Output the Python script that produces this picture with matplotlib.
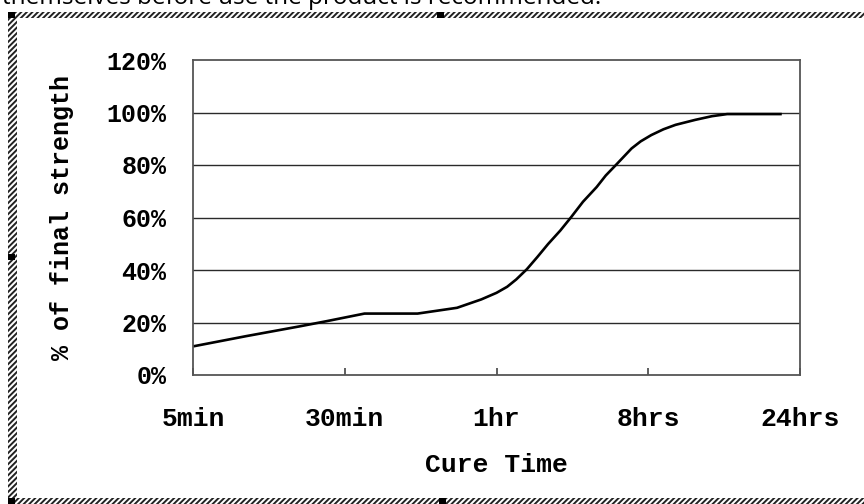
import matplotlib
matplotlib.use("Agg")
import matplotlib.pyplot as plt
from matplotlib.patches import Rectangle

# ---- data ----
x_labels = ["5min", "30min", "1hr", "8hrs", "24hrs"]
y_ticks = [0, 20, 40, 60, 80, 100, 120]
y_tick_labels = ["0%", "20%", "40%", "60%", "80%", "100%", "120%"]
curve_x = [0, 0.35, 0.7, 0.88, 1.13, 1.48, 1.74, 1.9, 2.0, 2.07, 2.13, 2.2, 2.27,
           2.34, 2.42, 2.49, 2.57, 2.66, 2.72, 2.79, 2.89, 2.95, 3.02, 3.1, 3.18,
           3.31, 3.42, 3.52, 3.88]
curve_y = [10.9, 14.8, 18.5, 20.5, 23.4, 23.4, 25.6, 28.8, 31.3, 33.6, 36.4, 40.3, 45.0,
           49.9, 55.0, 60.0, 66.0, 71.6, 76.0, 80.2, 86.3, 89.0, 91.4, 93.6, 95.3,
           97.2, 98.6, 99.4, 99.4]

W, H = 864, 504
fig = plt.figure(figsize=(W / 100, H / 100), dpi=100)
fig.patch.set_facecolor("white")

mono = ["Liberation Mono", "DejaVu Sans Mono"]

def fx(px):
    return px / W

def fy(py):
    return 1 - py / H

ax = fig.add_axes([fx(193), fy(375), fx(800) - fx(193), fy(60) - fy(375)])
ax.plot(curve_x, curve_y, color="black", lw=1.9, solid_capstyle="butt",
        solid_joinstyle="round")
ax.set_xlim(0, 4)
ax.set_ylim(0, 120)

for v in y_ticks[1:-1]:
    ax.axhline(v, color="#2a2a2a", lw=1.0, zorder=0)

ax.set_yticks(y_ticks)
ax.set_yticklabels(y_tick_labels, family=mono, fontweight="bold", fontsize=18)
ax.set_xticks(range(len(x_labels)))
ax.set_xticklabels(x_labels, family=mono, fontweight="bold", fontsize=19)
ax.tick_params(axis="y", length=0, pad=19)
ax.tick_params(axis="x", direction="in", length=5, width=1.2, color="#444444", pad=23)
for s in ax.spines.values():
    s.set_color("#555555")
    s.set_linewidth(1.3)

fig.text(fx(496), fy(465), "Cure Time", family=mono, fontweight="bold", fontsize=19,
         ha="center", va="center")
fig.text(fx(62), fy(217), "% of final strength", family=mono, fontweight="bold",
         fontsize=18, ha="center", va="center", rotation=90)

# document text cut at top
fig.text(fx(2), fy(4), "themselves before use the product is recommended.",
         family=["Open Sans", "DejaVu Sans"], fontsize=17.5, ha="left", va="baseline")

# hatched selection border
plt.rcParams["hatch.linewidth"] = 1.4
bands = [(8, 12, W - 8, 6), (8, 12, 9, H - 12), (8, 498, W - 8, 6)]
for (x0, y0, w, h) in bands:
    fig.patches.append(Rectangle((fx(x0), fy(y0 + h)), w / W, h / H,
                                 transform=fig.transFigure, facecolor="white",
                                 edgecolor="#222222", hatch="//////", lw=0))
handles = [(8, 12), (437, 12), (8, 254), (8, 498), (439, 498)]
for (x0, y0) in handles:
    fig.patches.append(Rectangle((fx(x0), fy(y0 + 6)), 7 / W, 6 / H,
                                 transform=fig.transFigure, facecolor="black",
                                 edgecolor="black", lw=0))

fig.savefig("out.png", dpi=100)
